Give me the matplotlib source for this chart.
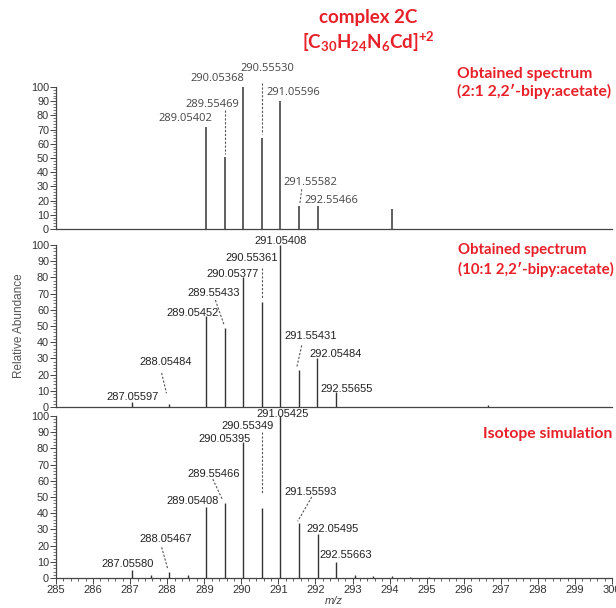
import matplotlib.pyplot as plt
from matplotlib.ticker import MultipleLocator

plt.rcParams['font.family'] = ['Liberation Sans', 'DejaVu Sans']

# obtained spectrum (2:1 2,2'-bipy:acetate)
mz_a = [289.054, 289.555, 290.054, 290.555, 291.056, 291.556, 292.055, 294.07]
ab_a = [72, 51, 100, 64, 90, 16, 16, 14]
lab_a = ['289.05402', '289.55469', '290.05368', '290.55530', '291.05596', '291.55582', '292.55466']

# obtained spectrum (10:1 2,2'-bipy:acetate)
mz_b = [287.056, 288.055, 289.0545, 289.5543, 290.0538, 290.5536, 291.0541, 291.5543, 292.0548, 292.5566, 296.65]
ab_b = [3, 2, 56, 49, 80, 65, 100, 23, 30, 9, 1]
lab_b = ['287.05597', '288.05484', '289.05452', '289.55433', '290.05377', '290.55361',
         '291.05408', '291.55431', '292.05484', '292.55655']

# isotope simulation
mz_c = [287.0558, 287.555, 288.0547, 288.555, 289.0541, 289.5547, 290.0540, 290.5535, 291.0543,
        291.5559, 292.0550, 292.5566, 293.055, 293.555, 294.055, 294.555, 295.055]
ab_c = [5, 2, 4, 2, 44, 46, 84, 43, 100, 34, 27, 10, 2, 1, 1, 0.6, 0.6]
lab_c = ['287.05580', '288.05467', '289.05408', '289.55466', '290.05395', '290.55349',
         '291.05425', '291.55593', '292.05495', '292.55663']

# label placement (x, y in data units) and dashed leaders
pos_a = [(288.5, 78), (289.22, 88), (289.35, 106), (290.70, 113), (291.41, 96), (291.86, 33), (292.44, 20)]
lead_a = [((289.555, 84), (289.555, 53)), ((290.555, 103), (290.555, 67)), ((291.63, 28), (291.58, 18))]
pos_b = [(287.06, 6), (287.95, 27.5), (288.68, 58), (289.25, 70.5), (289.77, 82), (290.28, 92),
         (291.05, 102.5), (291.87, 44), (292.54, 32.5), (292.85, 11)]
lead_b = [((287.85, 21), (287.98, 8.5)), ((289.30, 66), (289.53, 51)),
          ((290.553, 86), (290.553, 67)), ((291.63, 38), (291.50, 25))]
pos_c = [(286.93, 8.6), (287.95, 24), (288.69, 47.5), (289.26, 64), (289.55, 86), (290.18, 94),
         (291.12, 101.5), (291.87, 53), (292.47, 30.5), (292.82, 14)]
lead_c = [((287.85, 19), (288.01, 6)), ((289.23, 61), (289.50, 48)),
          ((290.553, 90), (290.553, 52)), ((291.90, 50), (291.52, 35))]

red = '#e8202a'
W, H = 616, 608
fig = plt.figure(figsize=(W / 100, H / 100), dpi=100)


def panel(top, bottom):
    ax = fig.add_axes([56 / W, 1 - bottom / H, (612 - 56) / W, (bottom - top) / H])
    ax.set_xlim(285, 300)
    ax.set_ylim(0, 100)
    for s in ['top', 'right']:
        ax.spines[s].set_visible(False)
    for s in ['left', 'bottom']:
        ax.spines[s].set_color('#444')
        ax.spines[s].set_linewidth(0.9)
    ax.yaxis.set_major_locator(MultipleLocator(10))
    ax.yaxis.set_minor_locator(MultipleLocator(2))
    ax.tick_params(axis='y', which='major', length=4, width=0.7, colors='#444', labelsize=7.8, pad=1)
    ax.tick_params(axis='y', which='minor', length=2, width=0.5, colors='#444')
    ax.tick_params(axis='y', labelcolor='#333')
    return ax


def draw(ax, mz, ab, labels, pos, leads, lw, col, font, tcol):
    ax.vlines(mz, 0, ab, color=col, lw=lw)
    for t, (x, y) in zip(labels, pos):
        ax.text(x, y, t, ha='center', va='center', fontsize=8, color=tcol,
                family=font, clip_on=False)
    for (x0, y0), (x1, y1) in leads:
        ax.plot([x0, x1], [y0, y1], ls=(0, (2, 1.5)), color='#555', lw=0.8, clip_on=False)


ax1 = panel(87, 229)
ax1.set_xticks([])
draw(ax1, mz_a, ab_a, lab_a, pos_a, lead_a, 1.2, '#444', 'Open Sans', '#444')

ax2 = panel(245, 407)
ax2.set_xticks([])
draw(ax2, mz_b, ab_b, lab_b, pos_b, lead_b, 1.0, '#333', 'Liberation Sans', '#222')
ax2.set_ylabel('Relative Abundance', fontsize=8.5, color='#555', labelpad=4)

ax3 = panel(416, 578)
draw(ax3, mz_c, ab_c, lab_c, pos_c, lead_c, 1.0, '#333', 'Liberation Sans', '#222')
ax3.xaxis.set_major_locator(MultipleLocator(1))
ax3.xaxis.set_minor_locator(MultipleLocator(0.2))
ax3.tick_params(axis='x', which='major', length=4, width=0.7, colors='#444', labelsize=8, pad=1)
ax3.tick_params(axis='x', which='minor', length=2.5, width=0.6, colors='#444')
ax3.tick_params(axis='x', labelcolor='#333')
ax3.set_xlabel('m/z', fontsize=8, style='italic', color='#444', labelpad=1)

# red annotations
plt.rcParams['mathtext.fontset'] = 'custom'
plt.rcParams['mathtext.bf'] = 'Lato:bold'
plt.rcParams['mathtext.rm'] = 'Lato:bold'
plt.rcParams['mathtext.default'] = 'bf'
fig.text(368 / W, 1 - 17 / H, 'complex 2C', ha='center', va='center', color=red,
         fontsize=13.5, family='Lato', weight='bold')
fig.text(368 / W, 1 - 42 / H, r'[C$_{30}$H$_{24}$N$_{6}$Cd]$^{+2}$', ha='center', va='center',
         color=red, fontsize=13.5, family='Lato', weight='bold')
fig.text(457 / W, 1 - 83 / H, 'Obtained spectrum\n(2:1 2,2\u2032-bipy:acetate)', ha='left',
         va='center', color=red, fontsize=11.3, family='Lato', weight='bold', linespacing=1.3)
fig.text(458 / W, 1 - 260 / H, 'Obtained spectrum\n(10:1 2,2\u2032-bipy:acetate)', ha='left',
         va='center', color=red, fontsize=10.8, family='Lato', weight='bold', linespacing=1.35)
fig.text(483 / W, 1 - 434 / H, 'Isotope simulation', ha='left', va='center', color=red,
         fontsize=11.3, family='Lato', weight='bold')

fig.savefig('out.png', dpi=100)
